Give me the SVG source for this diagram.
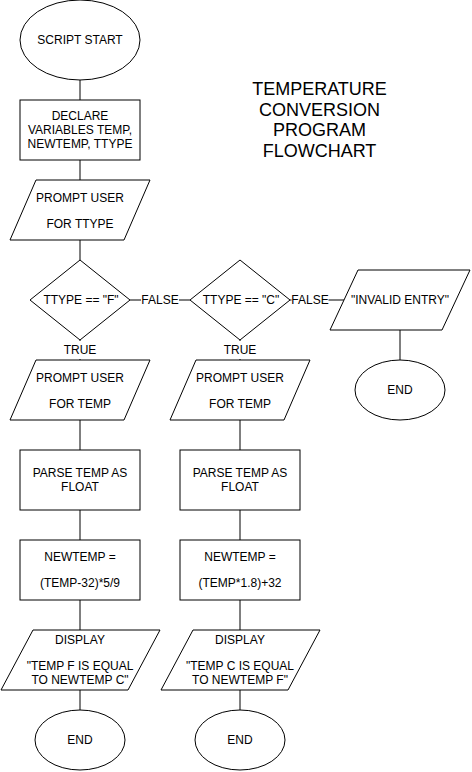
<svg xmlns="http://www.w3.org/2000/svg" width="472" height="772" viewBox="0 0 472 772">
<style>
.s{fill:#fff;stroke:#000;stroke-width:1}
.c{fill:none;stroke:#000;stroke-width:1}
text{font-family:"Liberation Sans",Arial,Helvetica,sans-serif;font-size:12px;fill:#000;text-anchor:middle}
.t{font-size:18px}
.lb{fill:#fff;stroke:none}
</style>
<rect width="472" height="772" fill="#fff"/>
<g id="connectors">
<path class="c" d="M80 80V100M80 160V180M80 240V260M80 340V360M80 420V450M80 510V540M80 600V630M80 690V710"/>
<path class="c" d="M240 340V360M240 420V450M240 510V540M240 600V630M240 690V710"/>
<path class="c" d="M400 330V360"/>
<path class="c" d="M130 300H190M290 300H344"/>
<rect class="lb" x="141" y="292" width="38" height="16"/>
<text x="160" y="304.3">FALSE</text>
<rect class="lb" x="291.5" y="292" width="37" height="16"/>
<text x="310" y="304.3">FALSE</text>
<rect class="lb" x="60" y="341" width="40" height="18"/>
<text x="80" y="354">TRUE</text>
<rect class="lb" x="220" y="341" width="40" height="18"/>
<text x="240" y="354">TRUE</text>
</g>
<g id="title">
<text class="t" x="319.5" y="95">TEMPERATURE</text>
<text class="t" x="319.5" y="115.7">CONVERSION</text>
<text class="t" x="319.5" y="136.4">PROGRAM</text>
<text class="t" x="319.5" y="157">FLOWCHART</text>
</g>
<g id="start">
<ellipse class="s" cx="80" cy="40" rx="60" ry="40"/>
<text x="80" y="44.3">SCRIPT START</text>
</g>
<g id="declare">
<rect class="s" x="20" y="100" width="120" height="60"/>
<text x="80" y="120">DECLARE</text>
<text x="80" y="134">VARIABLES TEMP,</text>
<text x="80" y="148">NEWTEMP, TTYPE</text>
</g>
<g id="prompt-ttype">
<polygon class="s" points="36,180 150,180 124,240 10,240"/>
<text x="80" y="201.7">PROMPT USER</text>
<text x="80" y="227.5">FOR TTYPE</text>
</g>
<g id="dec-f">
<polygon class="s" points="80,260 130,300 80,340 30,300"/>
<text x="81" y="304.3">TTYPE == "F"</text>
</g>
<g id="dec-c">
<polygon class="s" points="240,260 290,300 240,340 190,300"/>
<text x="241" y="304.3">TTYPE == "C"</text>
</g>
<g id="invalid">
<polygon class="s" points="358,270 470,270 442,330 330,330"/>
<text x="400" y="304.3">"INVALID ENTRY"</text>
</g>
<g id="end-invalid">
<ellipse class="s" cx="400" cy="390" rx="45" ry="30"/>
<text x="400" y="394.3">END</text>
</g>
<g id="prompt-temp-f">
<polygon class="s" points="36,360 150,360 124,420 10,420"/>
<text x="80" y="381.7">PROMPT USER</text>
<text x="80" y="407.5">FOR TEMP</text>
</g>
<g id="prompt-temp-c">
<polygon class="s" points="196,360 310,360 284,420 170,420"/>
<text x="240" y="381.7">PROMPT USER</text>
<text x="240" y="407.5">FOR TEMP</text>
</g>
<g id="parse-f">
<rect class="s" x="20" y="450" width="120" height="60"/>
<text x="80" y="476.7">PARSE TEMP AS</text>
<text x="80" y="490.7">FLOAT</text>
</g>
<g id="parse-c">
<rect class="s" x="180" y="450" width="120" height="60"/>
<text x="240" y="476.7">PARSE TEMP AS</text>
<text x="240" y="490.7">FLOAT</text>
</g>
<g id="calc-f">
<rect class="s" x="20" y="540" width="120" height="60"/>
<text x="80" y="561">NEWTEMP =</text>
<text x="80" y="587.3">(TEMP-32)*5/9</text>
</g>
<g id="calc-c">
<rect class="s" x="180" y="540" width="120" height="60"/>
<text x="240" y="561">NEWTEMP =</text>
<text x="240" y="587.3">(TEMP*1.8)+32</text>
</g>
<g id="display-f">
<polygon class="s" points="33,630 160,630 128,690 1,690"/>
<text x="80" y="644">DISPLAY</text>
<text x="80" y="670">"TEMP F IS EQUAL</text>
<text x="80" y="683.5">TO NEWTEMP C"</text>
</g>
<g id="display-c">
<polygon class="s" points="193,630 320,630 288,690 161,690"/>
<text x="240" y="644">DISPLAY</text>
<text x="240" y="670">"TEMP C IS EQUAL</text>
<text x="240" y="683.5">TO NEWTEMP F"</text>
</g>
<g id="end-f">
<ellipse class="s" cx="80" cy="740" rx="45" ry="30"/>
<text x="80" y="744.3">END</text>
</g>
<g id="end-c">
<ellipse class="s" cx="240" cy="740" rx="45" ry="30"/>
<text x="240" y="744.3">END</text>
</g>
</svg>
